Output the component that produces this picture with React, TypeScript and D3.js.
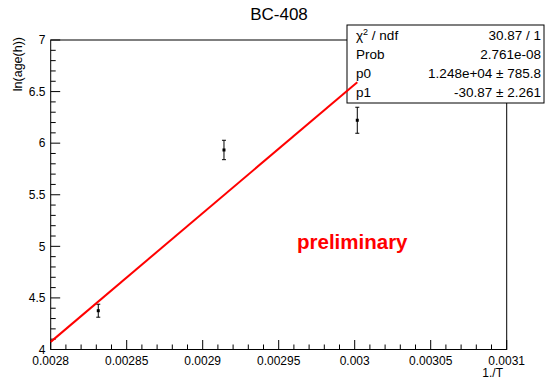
import { useMemo } from 'react';
import * as d3 from 'd3';

// measured points: 1/T vs ln(age in hours)
const invT = [0.0028313, 0.002914, 0.0030017];
const lnAge = [4.376, 5.934, 6.222];
const lnAgeErr = [0.063, 0.094, 0.126];

// linear fit result (y = p0 * x + p1)
const p0 = 12480;
const p1 = -30.87;
const fitRange = [0.0028, 0.0030017];

const xTicks = [0.0028, 0.00285, 0.0029, 0.00295, 0.003, 0.00305, 0.0031];
const xTickLabels = ['0.0028', '0.00285', '0.0029', '0.00295', '0.003', '0.00305', '0.0031'];
const yTicks = [4, 4.5, 5, 5.5, 6, 6.5, 7];
const yTickLabels = ['4', '4.5', '5', '5.5', '6', '6.5', '7'];

const statNames = ['χ2 / ndf', 'Prob', 'p0', 'p1'];
const statValues = ['30.87 / 1', '2.761e-08', '1.248e+04 ± 785.8', '-30.87 ± 2.261'];

const W = 547;
const H = 380;
const frame = { left: 50.7, right: 506.7, top: 40, bottom: 349.5 };
const FONT = '"Liberation Sans", Arial, Helvetica, sans-serif';

export default function App() {
  const x = useMemo(
    () => d3.scaleLinear().domain([0.0028, 0.0031]).range([frame.left, frame.right]),
    []
  );
  const y = useMemo(
    () => d3.scaleLinear().domain([4, 7]).range([frame.bottom, frame.top]),
    []
  );

  // minor ticks
  const xMinor = d3.range(0, 31).map((i) => 0.0028 + i * 0.00001);
  const yMinor = d3.range(0, 31).map((i) => 4 + i * 0.1);

  const fitLine = d3
    .line<number>()
    .x((d) => x(d))
    .y((d) => y(p0 * d + p1));

  const box = { x: 347, y: 25, w: 197, h: 78 };

  return (
    <div style={{ position: 'fixed', left: 0, top: 0 }}>
      <svg width={W} height={H} style={{ display: 'block', background: '#fff' }} fontFamily={FONT}>
        {/* title */}
        <text x={279} y={20} fontSize={17} textAnchor="middle">
          BC-408
        </text>

        {/* frame */}
        <rect
          x={frame.left}
          y={frame.top}
          width={frame.right - frame.left}
          height={frame.bottom - frame.top}
          fill="none"
          stroke="#000"
          strokeWidth={1}
        />

        {/* x ticks */}
        {xMinor.map((v, i) => (
          <line
            key={'xm' + i}
            x1={x(v)}
            x2={x(v)}
            y1={frame.bottom}
            y2={frame.bottom - (i % 5 === 0 ? 9.5 : 5)}
            stroke="#000"
          />
        ))}
        {xTicks.map((v, i) => (
          <text key={'xl' + i} x={x(v)} y={365} fontSize={12} textAnchor="middle">
            {xTickLabels[i]}
          </text>
        ))}
        <text x={503} y={377} fontSize={12} textAnchor="end">
          1./T
        </text>

        {/* y ticks */}
        {yMinor.map((v, i) => (
          <line
            key={'ym' + i}
            x1={frame.left}
            x2={frame.left + (i % 5 === 0 ? 9.5 : 5)}
            y1={y(v)}
            y2={y(v)}
            stroke="#000"
          />
        ))}
        {yTicks.map((v, i) => (
          <text key={'yl' + i} x={45.5} y={y(v) + 4.3} fontSize={12} textAnchor="end">
            {yTickLabels[i]}
          </text>
        ))}
        <text
          transform="translate(21.5,37) rotate(-90)"
          fontSize={12.5}
          textAnchor="end"
        >
          ln(age(h))
        </text>

        {/* data points with error bars */}
        {invT.map((v, i) => {
          const cx = x(v);
          const cy = y(lnAge[i]);
          const y1 = y(lnAge[i] + lnAgeErr[i]);
          const y2 = y(lnAge[i] - lnAgeErr[i]);
          return (
            <g key={'pt' + i} stroke="#000" strokeWidth={1}>
              <line x1={cx} x2={cx} y1={y1} y2={y2} />
              <line x1={cx - 2} x2={cx + 2} y1={y1} y2={y1} />
              <line x1={cx - 2} x2={cx + 2} y1={y2} y2={y2} />
              <rect x={cx - 1.5} y={cy - 1.5} width={3} height={3} fill="#000" stroke="none" />
            </g>
          );
        })}

        {/* stats box */}
        <rect x={box.x} y={box.y} width={box.w} height={box.h} fill="#fff" stroke="#000" strokeWidth={1} />
        {statNames.map((n, i) => (
          <g key={'st' + i} fontSize={13.5}>
            <text x={356} y={40 + i * 19}>
              {i === 0 ? (
                <>
                  χ<tspan dy={-5} fontSize={9}>2</tspan>
                  <tspan dy={5}> / ndf</tspan>
                </>
              ) : (
                n
              )}
            </text>
            <text x={541} y={40 + i * 19} textAnchor="end">
              {statValues[i]}
            </text>
          </g>
        ))}

        {/* fit */}
        <path d={fitLine(fitRange) ?? ''} fill="none" stroke="#ff0000" strokeWidth={2} />

        <text x={297} y={249} fontSize={20.5} fontWeight="bold" fill="#ff0000">
          preliminary
        </text>
      </svg>
    </div>
  );
}
